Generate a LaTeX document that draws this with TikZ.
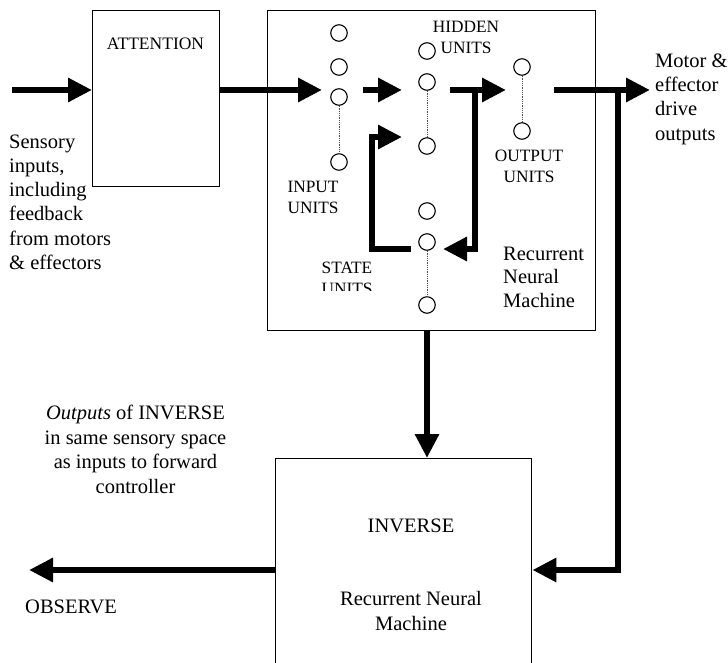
\documentclass[tikz,border=0pt]{standalone}
\usepackage{fontspec}
\setmainfont{Liberation Serif}
\usetikzlibrary{arrows.meta}
\tikzset{
  box/.style={draw, line width=1.4pt, inner sep=0pt, anchor=north west},
  unit/.style={circle, draw, line width=1.1pt, minimum size=16.5pt, inner sep=0pt},
  flow/.style={line width=6pt, -{Triangle[length=24pt,width=23pt]}},
  link/.style={densely dotted, line width=0.8pt, black!70},
  txt/.style={inner sep=0pt, font=\fontsize{20.5}{24.3}\selectfont},
  utxt/.style={inner sep=0pt, align=center, font=\fontsize{17.3}{20.5}\selectfont},
}
\begin{document}
\begin{tikzpicture}[x=1pt,y=-1pt]
\useasboundingbox (0,0) rectangle (728,662);
\clip (0,0) rectangle (728,662);
% boxes
\node[box, minimum width=127pt, minimum height=176pt] (att) at (92,10) {};
\node[box, minimum width=328pt, minimum height=320pt] (rnm) at (267,10) {};
\node[box, minimum width=256pt, minimum height=240pt] (inv) at (275,458) {};
% units
\node[unit] (i1) at (339,33) {};
\node[unit] (i2) at (339,67) {};
\node[unit] (i3) at (339,97) {};
\node[unit] (i4) at (339,162) {};
\node[unit] (h1) at (427,51) {};
\node[unit] (h2) at (427,82) {};
\node[unit] (h3) at (427,146) {};
\node[unit] (o1) at (522,67) {};
\node[unit] (o2) at (522,131) {};
\node[unit] (s1) at (427,211) {};
\node[unit] (s2) at (427,242) {};
\node[unit] (s3) at (427,305) {};
\draw[link] (i3) -- (i4);
\draw[link] (h2) -- (h3);
\draw[link] (o1) -- (o2);
\draw[link] (s2) -- (s3);
% coordinates
\coordinate (inL) at (12,90);
\coordinate (iIn) at (322,90);
\coordinate (ihS) at (363,90);
\coordinate (ihT) at (402,90);
\coordinate (hoS) at (450,90);
\coordinate (hoT) at (506,90);
\coordinate (omS) at (554,90);
\coordinate (omT) at (650,90);
\coordinate (fbTop) at (475,87);
\coordinate (fbC) at (475,249);
\coordinate (fbT) at (443,249);
\coordinate (lpS) at (411,249);
\coordinate (lpC1) at (372,249);
\coordinate (lpC2) at (372,137);
\coordinate (lpT) at (402,137);
\coordinate (mfTop) at (618,87);
\coordinate (mfC) at (618,570);
\coordinate (obsT) at (29,570);
% connectors
\draw[flow] (inL) -- (inL -| att.west);
\draw[flow] (att.east |- inL) -- (iIn);
\draw[flow] (ihS) -- (ihT);
\draw[flow] (hoS) -- (hoT);
\draw[flow] (omS) -- (omT);
\draw[flow] (fbTop) -- (fbC) -- (fbT);
\draw[flow] (lpS) -- (lpC1) -- (lpC2) -- (lpT);
\draw[flow] (mfTop) -- (mfC) -- (inv.east |- mfC);
\draw[flow] (h3 |- rnm.south) -- (h3 |- inv.north);
\draw[flow] (inv.west |- mfC) -- (obsT);
% labels (multi-line nodes anchored at the baseline of their last line)
\node[utxt, font=\fontsize{17.5}{20.5}\selectfont, anchor=base] (attl) at (155.5,49) {ATTENTION};
\node[utxt, anchor=base] (hidl) at (466,53) {HIDDEN\\UNITS};
\node[utxt, anchor=base] (inpl) at (313,213) {INPUT\\UNITS};
\node[utxt, anchor=base] (outl) at (529,182) {OUTPUT\\UNITS};
\begin{scope}
\clip (300,250) rectangle (400,290);
\node[utxt, anchor=base] (stal) at (347,294) {STATE\\UNITS};
\end{scope}
\node[txt, align=left, anchor=base west, font=\fontsize{20.5}{23.5}\selectfont] (rnml) at (503,307) {Recurrent\\Neural\\Machine};
\node[txt, align=left, anchor=base west] (sens) at (9,269.5) {Sensory\\inputs,\\including\\feedback\\from motors\\\& effectors};
\node[txt, align=left, anchor=base west] (motl) at (655,140) {Motor \&\\effector\\drive\\outputs};
\node[txt, align=center, anchor=base, font=\fontsize{20.5}{24.5}\selectfont] (outsl) at (135.5,493) {\textit{Outputs} of INVERSE\\in same sensory space\\as inputs to forward\\controller};
\node[txt, anchor=base west] (obsl) at (25,613) {OBSERVE};
\node[txt, anchor=base] (invl) at (411,532) {INVERSE};
\node[txt, align=center, anchor=base, font=\fontsize{20.5}{25}\selectfont] (invrl) at (411,630) {Recurrent Neural\\Machine};
\end{tikzpicture}
\end{document}
